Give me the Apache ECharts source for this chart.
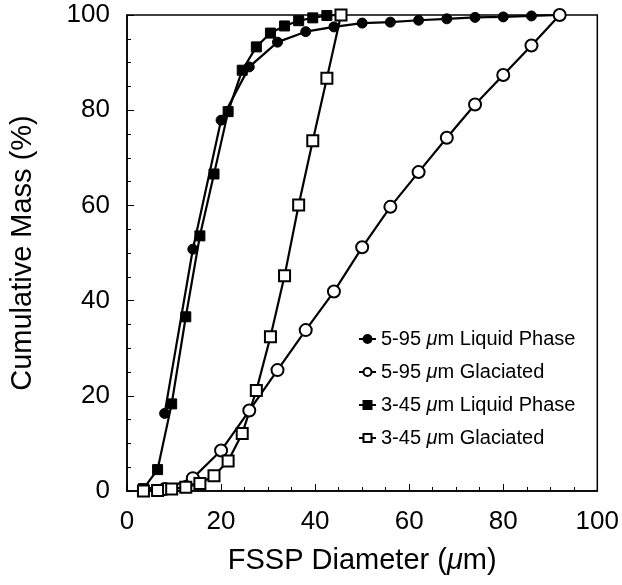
<!DOCTYPE html>
<html>
<head>
<meta charset="utf-8">
<script src="https://cdn.jsdelivr.net/npm/echarts@6/dist/echarts.min.js"></script>
<style>
  html, body { margin: 0; padding: 0; background: #fff; }
  #chart { width: 622px; height: 585px; }
</style>
</head>
<body>
<div id="chart"></div>
<script>
// diameters (um) of the FSSP bins
const xRange95 = [8, 14, 20, 26, 32, 38, 44, 50, 56, 62, 68, 74, 80, 86, 92]
const xRange45 = [3.5, 6.5, 9.5, 12.5, 15.5, 18.5, 21.5, 24.5, 27.5, 30.5, 33.5, 36.5, 39.5, 42.5, 45.5]

// cumulative mass (%)
const liquid95 = [16.3, 50.8, 77.9, 89.1, 94.3, 96.5, 97.5, 98.3, 98.5, 98.9, 99.2, 99.5, 99.6, 99.8, 100]
const glaciated95 = [0.4, 2.7, 8.5, 16.9, 25.4, 33.8, 41.9, 51.2, 59.7, 67.0, 74.2, 81.2, 87.4, 93.6, 100]
const liquid45 = [0.5, 4.5, 18.3, 36.6, 53.6, 66.6, 79.7, 88.4, 93.3, 96.2, 97.7, 98.8, 99.4, 99.9, 100]
const glaciated45 = [0, 0.1, 0.4, 0.8, 1.6, 3.2, 6.3, 12.1, 21.1, 32.4, 45.2, 60.1, 73.6, 86.7, 100]

const seriesNames = [
  '5-95 μm Liquid Phase',
  '5-95 μm Glaciated',
  '3-45 μm Liquid Phase',
  '3-45 μm Glaciated'
]
const axisTicks = [0, 20, 40, 60, 80, 100]

const font = "'Liberation Sans', Arial, Helvetica, sans-serif"

function pairs(xs, ys) {
  return xs.map((x, i) => [x, ys[i]])
}

function makeSeries(name, data, symbol, size, filled) {
  return {
    name: name,
    type: 'line',
    data: data,
    symbol: symbol,
    symbolSize: size,
    showSymbol: true,
    animation: false,
    lineStyle: { color: '#000', width: 2.2 },
    itemStyle: filled
      ? { color: '#000', borderColor: '#000', borderWidth: 1 }
      : { color: '#fff', borderColor: '#000', borderWidth: 2 }
  }
}

function axisCommon(name, nameGap, margin) {
  return {
    type: 'value',
    min: axisTicks[0],
    max: axisTicks[axisTicks.length - 1],
    interval: 20,
    name: name,
    nameLocation: 'middle',
    nameGap: nameGap,
    nameTextStyle: {
      color: '#000',
      fontFamily: font,
      fontSize: 29,
      rich: {
        n: { fontFamily: font, fontSize: 29, color: '#000' },
        i: { fontFamily: font, fontSize: 29, color: '#000', fontStyle: 'italic' }
      }
    },
    axisLine: { show: true, lineStyle: { color: '#000', width: 1.5 } },
    axisTick: { show: true, inside: true, length: 7, lineStyle: { color: '#000', width: 1 } },
    minorTick: { show: true, splitNumber: 4, length: 4, lineStyle: { color: '#000', width: 1 } },
    splitLine: { show: false },
    axisLabel: { color: '#000', fontFamily: font, fontSize: 26, margin: margin }
  }
}

const chart = echarts.init(document.getElementById('chart'), null, { renderer: 'canvas' })

const option = {
  backgroundColor: '#fff',
  animation: false,
  grid: {
    left: 122,
    right: 24,
    top: 15,
    bottom: 94,
    show: true,
    borderColor: '#000',
    borderWidth: 1.5,
    backgroundColor: 'transparent'
  },
  legend: {
    orient: 'vertical',
    left: 353,
    top: 324,
    itemWidth: 17,
    itemHeight: 10,
    itemGap: 13,
    data: seriesNames,
    textStyle: {
      color: '#000',
      fontFamily: font,
      fontSize: 20,
      lineHeight: 20,
      rich: {
        n: { fontFamily: font, fontSize: 20, color: '#000' },
        i: { fontFamily: font, fontSize: 20, color: '#000', fontStyle: 'italic' }
      }
    },
    formatter: function (name) {
      const parts = name.split('μ')
      return '{n|' + parts[0] + '}{i|μ}{n|' + parts[1] + '}'
    }
  },
  xAxis: axisCommon('{n|FSSP Diameter (}{i|μ}{n|m)}', 55, 18),
  yAxis: axisCommon('Cumulative Mass (%)', 90, 17),
  series: [
    makeSeries(seriesNames[0], pairs(xRange95, liquid95), 'circle', 10, true),
    makeSeries(seriesNames[1], pairs(xRange95, glaciated95), 'circle', 12, false),
    makeSeries(seriesNames[2], pairs(xRange45, liquid45), 'rect', 10, true),
    makeSeries(seriesNames[3], pairs(xRange45, glaciated45), 'rect', 11, false)
  ]
}

chart.setOption(option)
</script>
</body>
</html>
